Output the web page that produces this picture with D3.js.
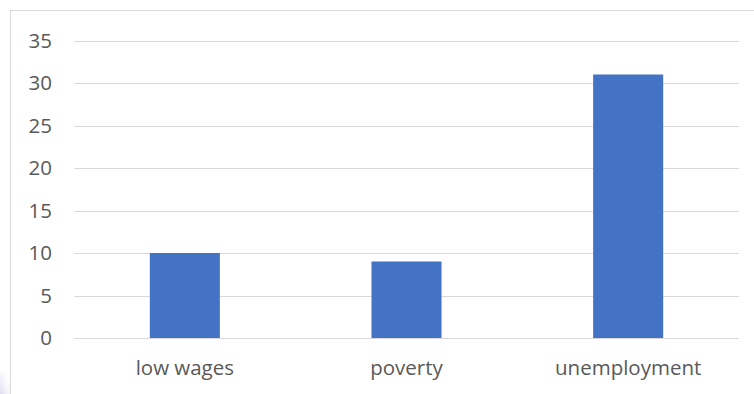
<!DOCTYPE html>
<html>
<head>
<meta charset="utf-8">
<script src="https://cdn.jsdelivr.net/npm/d3@7"></script>
<style>
  html, body { margin: 0; padding: 0; background: #fff; }
  svg { display: block; }
</style>
</head>
<body>
<svg id="chart" width="754" height="394"></svg>
<script>
// Causes and their counts
const categories = ["low wages", "poverty", "unemployment"];
const values = [10, 9, 31];
const yTicks = [0, 5, 10, 15, 20, 25, 30, 35];

const svg = d3.select("#chart");
const W = 754, H = 394;
const margin = { left: 74, right: 15, top: 40.5, bottom: 56 };
const font = "'Open Sans', 'Noto Sans', sans-serif";
const fontSize = "20.5px";

// Soft shadow at the lower-left of the frame
const defs = svg.append("defs");
const grad = defs.append("linearGradient")
  .attr("id", "shade").attr("x1", 0).attr("y1", 1).attr("x2", 1).attr("y2", 0);
grad.append("stop").attr("offset", 0).attr("stop-color", "#dcdcf0").attr("stop-opacity", 1);
grad.append("stop").attr("offset", 1).attr("stop-color", "#ffffff").attr("stop-opacity", 0);
svg.append("path")
  .attr("d", "M0,394 L0,372 L10,372 L10,394 Z")
  .attr("fill", "url(#shade)");

// Chart area frame
svg.append("rect")
  .attr("x", 10.5).attr("y", 10.5)
  .attr("width", 760).attr("height", 400)
  .attr("fill", "#fff")
  .attr("stroke", "#d9d9d9").attr("stroke-width", 1);

const x = d3.scaleBand()
  .domain(categories)
  .range([margin.left, W - margin.right])
  .paddingInner(0.684)
  .paddingOuter(0.342);

const y = d3.scaleLinear()
  .domain([0, 35])
  .range([H - margin.bottom, margin.top]);

// Horizontal gridlines
svg.append("g")
  .selectAll("line")
  .data(yTicks)
  .join("line")
  .attr("x1", margin.left).attr("x2", W - margin.right)
  .attr("y1", d => Math.round(y(d)) + 0.5)
  .attr("y2", d => Math.round(y(d)) + 0.5)
  .attr("stroke", "#d9d9d9").attr("stroke-width", 1);

// Y axis labels
const yAxis = svg.append("g")
  .attr("transform", `translate(${margin.left},0)`)
  .call(d3.axisLeft(y).tickValues(yTicks).tickSize(0).tickPadding(22).tickFormat(d3.format("d")));
yAxis.select(".domain").remove();
yAxis.selectAll("text")
  .attr("fill", "#595959")
  .style("font-family", font)
  .style("font-size", fontSize);

// Bars
svg.append("g")
  .selectAll("rect")
  .data(values)
  .join("rect")
  .attr("x", (d, i) => x(categories[i]))
  .attr("y", d => y(d))
  .attr("width", x.bandwidth())
  .attr("height", d => y(0) - y(d))
  .attr("fill", "#4472c4");

// X axis labels
const xAxis = svg.append("g")
  .attr("transform", `translate(0,${y(0)})`)
  .call(d3.axisBottom(x).tickSize(0).tickPadding(22));
xAxis.select(".domain").remove();
xAxis.selectAll("text")
  .attr("fill", "#595959")
  .style("font-family", font)
  .style("font-size", fontSize);
</script>
</body>
</html>
